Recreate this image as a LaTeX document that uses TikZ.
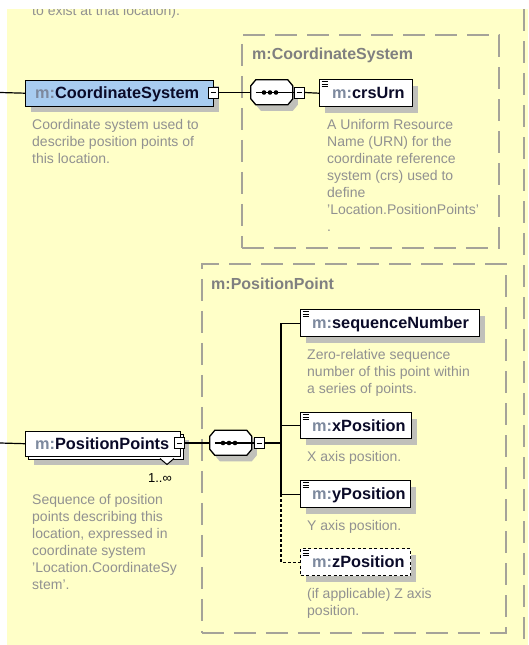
\documentclass[tikz,border=0pt]{standalone}
\usepackage{fontspec}
\setmainfont{Liberation Sans}
\usetikzlibrary{shadows}
\definecolor{bgyellow}{RGB}{255,255,200}
\definecolor{dashgray}{RGB}{165,163,153}
\definecolor{descgray}{RGB}{145,145,145}
\definecolor{titlegray}{RGB}{128,128,128}
\definecolor{mgray}{RGB}{125,137,158}
\definecolor{namecol}{RGB}{10,10,40}
\definecolor{shadowgray}{RGB}{192,192,186}
\definecolor{csblue}{RGB}{168,204,240}
\newcommand\nm[1]{\textcolor{mgray}{m:}\textcolor{namecol}{#1}}
\newcommand\eicon[1]{\foreach \d in {2.6,4.9,7.2}{\draw[line width=0.8pt] ([shift={(2.5pt,-\d pt)}]#1.north west) -- ++(6pt,0pt);}}
\newcommand\seqsym[2]{%
  \node[inner sep=0,minimum width=42pt,minimum height=25pt] (#1) at (#2) {};
  \fill[shadowgray] ([shift={(5pt,-6pt)}]#1.north west) ++(5pt,0pt) -- ++(32pt,0pt) -- ++(5pt,-6pt) -- ++(0pt,-13pt) -- ++(-5pt,-6pt) -- ++(-32pt,0pt) -- ++(-5pt,6pt) -- ++(0pt,13pt) -- cycle;
  \filldraw[fill=white,draw=black,line width=1.3pt] (#1.north west) ++(5pt,0pt) -- ++(32pt,0pt) -- ++(5pt,-6pt) -- ++(0pt,-13pt) -- ++(-5pt,-6pt) -- ++(-32pt,0pt) -- ++(-5pt,6pt) -- ++(0pt,13pt) -- cycle;
  \draw[line width=1.4pt] ([xshift=5pt]#1.west) -- (#1.east);
  \foreach \dx in {-8,-2,4} \fill ([xshift=\dx pt]#1.center) circle (2.3pt);
}
\newcommand\minus[1]{\draw[line width=1pt] ([xshift=-2.5pt]#1.center) -- ([xshift=2.5pt]#1.center);}
\begin{document}
\begin{tikzpicture}[x=1pt,y=-1pt,
  dashbox/.style={draw=dashgray,line width=1.5pt,dash pattern=on 22pt off 10pt},
  boxtitle/.style={font=\bfseries\fontsize{16}{18}\selectfont,text=titlegray,anchor=west,inner sep=0,text height=15pt,text depth=3pt},
  desc/.style={font=\fontsize{14}{17}\selectfont,text=descgray,align=left,anchor=north west,inner sep=0},
  elem/.style={draw=black,line width=1.4pt,fill=white,anchor=north west,inner sep=0,
     drop shadow={shadow xshift=5pt,shadow yshift=-6pt,fill=shadowgray,opacity=1}},
  ename/.style={font=\bfseries\fontsize{16.3}{19}\selectfont,anchor=west,inner sep=0,text height=15pt,text depth=3pt},
  minusbox/.style={draw=black,line width=1pt,fill=white,minimum width=10pt,minimum height=11pt,inner sep=0},
  conn/.style={draw=black,line width=1.2pt},
]
\useasboundingbox (0,0) rectangle (528,645);
\fill[bgyellow] (7,9) rectangle (528,645);
\begin{scope}
  \clip (7,9) rectangle (528,645);
  \node[desc,anchor=base west] (toptext) at (32,15) {to exist at that location).};
\end{scope}
\draw[dashbox] (524,9) -- (524,645);

% containers
\node[dashbox,anchor=north west,minimum width=257pt,minimum height=213pt,inner sep=0] (csType) at (241,34) {};
\node[boxtitle] (csTitle) at (252,53) {m:CoordinateSystem};
\node[dashbox,anchor=north west,minimum width=304pt,minimum height=369pt,inner sep=0] (ppType) at (201,263) {};
\node[boxtitle] (ppTitle) at (211,283) {m:PositionPoint};

% row 1
\coordinate (in1) at (0,92.5);
\node[elem,fill=csblue,minimum width=188pt,minimum height=26pt] (cs) at (25,79.5) {};
\node[ename] (csL) at (35,92.5) {\nm{CoordinateSystem}};
\node[minusbox] (csM) at (213,92.5) {};
\minus{csM}
\draw[conn] (in1) -- (cs.west);
\seqsym{s1}{272,92.5}
\node[minusbox] (s1M) at (299,92.5) {};
\minus{s1M}
\draw[conn] (csM.east) -- (s1.west);
\draw[conn] (s1.east) -- (s1M.west);
\node[elem,minimum width=93pt,minimum height=27pt] (crs) at (319,79) {};
\eicon{crs}
\node[ename] (crsL) at (332,92.5) {\nm{crsUrn}};
\draw[conn] (s1M.east) -- (crs.west);

\node[desc] (csDesc) at (32,119.5) {Coordinate system used to\\describe position points of\\this location.};
\node[desc] (crsDesc) at (327,119.5) {A Uniform Resource\\Name (URN) for the\\coordinate reference\\system (crs) used to\\define\\'Location.PositionPoints'\\.};

% row 2
\coordinate (in2) at (0,443);
\node[elem,minimum width=155pt,minimum height=25pt] (ppBack) at (28,433.5) {};
\node[draw=black,line width=1.4pt,fill=white,anchor=north west,inner sep=0,minimum width=155pt,minimum height=25pt] (pp) at (25,430.5) {};
\node[ename] (ppL) at (35,443) {\nm{PositionPoints}};
\node[minusbox] (ppM) at (179.5,443) {};
\minus{ppM}
\draw[conn] (in2) -- (pp.west);
\coordinate (tri) at (167,458.5);
\draw[line width=1pt,fill=white] ([xshift=-7pt]tri) -- ([yshift=-6pt]tri) -- ([xshift=7pt]tri);
\node[font=\fontsize{13}{15}\selectfont,inner sep=0] (mult) at (160,478) {1..∞};
\node[desc] (ppDesc) at (32,494.5) {Sequence of position\\points describing this\\location, expressed in\\coordinate system\\'Location.CoordinateSy\\stem'.};

\seqsym{s2}{231,443}
\node[minusbox] (s2M) at (259,443) {};
\minus{s2M}
\draw[conn] (ppM.east) -- (s2.west);
\draw[conn] (s2.east) -- (s2M.west);
\coordinate (bus) at (281,443);
\draw[conn] (s2M.east) -- (bus);

\node[elem,minimum width=179pt,minimum height=27pt] (seqN) at (300,309) {};
\eicon{seqN}
\node[ename] (seqNL) at (312,322.5) {\nm{sequenceNumber}};
\node[desc] (seqDesc) at (307,349.5) {Zero-relative sequence\\number of this point within\\a series of points.};

\node[elem,minimum width=111pt,minimum height=26pt] (xPos) at (300,412) {};
\eicon{xPos}
\node[ename] (xPosL) at (312,425) {\nm{xPosition}};
\node[desc] (xDesc) at (307,451.5) {X axis position.};

\node[elem,minimum width=110pt,minimum height=27pt] (yPos) at (300,480) {};
\eicon{yPos}
\node[ename] (yPosL) at (312,493.5) {\nm{yPosition}};
\node[desc] (yDesc) at (307,520.5) {Y axis position.};

\node[elem,dash pattern=on 3pt off 2.5pt,minimum width=110pt,minimum height=27pt] (zPos) at (300,548) {};
\eicon{zPos}
\node[ename] (zPosL) at (312,561.5) {\nm{zPosition}};
\node[desc] (zDesc) at (307,588.5) {(if applicable) Z axis\\position.};

\draw[conn] (seqN.west) -| (bus |- yPos.west) -- (yPos.west);
\draw[conn] (xPos.west) -- (xPos.west -| bus);
\draw[conn,dash pattern=on 3pt off 2pt] (bus |- yPos.west) |- (zPos.west);
\end{tikzpicture}
\end{document}
